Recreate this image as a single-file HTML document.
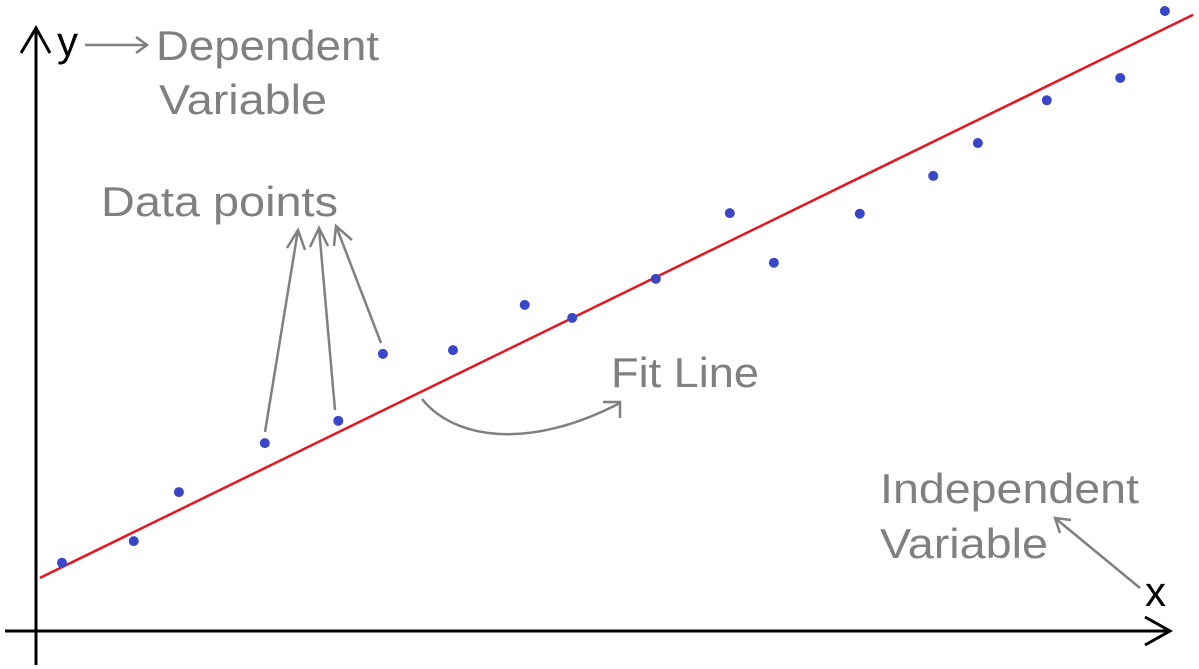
<!DOCTYPE html>
<html><head><meta charset="utf-8"><style>
html,body{margin:0;padding:0;background:#fff;width:1199px;height:669px;overflow:hidden}
svg{display:block}
text{font-family:"Liberation Sans",sans-serif}
.lbl{fill:#808080;font-size:42px}
.ann{stroke:#808080;stroke-width:2.5;fill:none}
</style></head><body>
<svg id="chart" width="1199" height="669">
<g id="axes">
<line x1="36" y1="665" x2="36" y2="30" stroke="#000" stroke-width="3"/>
<polyline points="21,53 36,28 50,53" fill="none" stroke="#000" stroke-width="3"/>
<line x1="5" y1="631" x2="1170" y2="631" stroke="#000" stroke-width="3"/>
<polyline points="1145,617 1170,631 1145,645" fill="none" stroke="#000" stroke-width="3"/>
<text x="57" y="56" font-size="42" fill="#000">y</text>
<text x="1145" y="606" font-size="42" fill="#000">x</text>
</g>
<g>
<line class="ann" x1="85" y1="45" x2="147" y2="45"/>
<polyline class="ann" points="136,37 147,45 136,53"/>
<text class="lbl" x="156" y="60" textLength="223" lengthAdjust="spacingAndGlyphs">Dependent</text>
<text class="lbl" x="159" y="114" textLength="168" lengthAdjust="spacingAndGlyphs">Variable</text>
<text class="lbl" x="101" y="216" textLength="237" lengthAdjust="spacingAndGlyphs">Data points</text>
<line class="ann" x1="265" y1="432" x2="298" y2="230"/>
<polyline class="ann" points="287,248 298,230 305,250"/>
<line class="ann" x1="335" y1="410" x2="319" y2="228"/>
<polyline class="ann" points="310,247 319,228 328,246"/>
<line class="ann" x1="381" y1="343" x2="336" y2="226"/>
<polyline class="ann" points="334,246 336,226 352,240"/>
<text class="lbl" x="611" y="387" textLength="148" lengthAdjust="spacingAndGlyphs">Fit Line</text>
<path class="ann" d="M422,399 C455,440 530,450 620,403"/>
<polyline class="ann" points="603,402 620,402 620,418"/>
<text class="lbl" x="880" y="503" textLength="259" lengthAdjust="spacingAndGlyphs">Independent</text>
<text class="lbl" x="880" y="558" textLength="168" lengthAdjust="spacingAndGlyphs">Variable</text>
<line class="ann" x1="1140" y1="588" x2="1055" y2="518"/>
<polyline class="ann" points="1060,533 1055,518 1071,520"/>
</g>
<g id="marks"></g>
</svg>
<script>
const xValues=[0.46,1.73,2.53,4.05,5.35,6.14,7.38,8.65,9.49,10.97,12.28,13.06,14.58,15.88,16.67,17.89,19.19,19.98];
const yValues=[1.10,1.45,2.24,3.03,3.39,4.47,4.53,5.26,5.05,5.68,6.74,5.94,6.73,7.34,7.87,8.56,8.92,10.0];
const fitIntercept=0.825;
const fitSlope=0.445;
const fitRange=[0.07,20.48];
const xs=v=>36+v*56.5;
const ys=v=>631-v*62;
const NS="http://www.w3.org/2000/svg";
const g=document.getElementById('marks');
const ln=document.createElementNS(NS,'line');
ln.setAttribute('x1',xs(fitRange[0]));ln.setAttribute('y1',ys(fitIntercept+fitSlope*fitRange[0]));
ln.setAttribute('x2',xs(fitRange[1]));ln.setAttribute('y2',ys(fitIntercept+fitSlope*fitRange[1]));
ln.setAttribute('stroke','#e8141e');ln.setAttribute('stroke-width','2.5');


g.appendChild(ln);
xValues.forEach((x,i)=>{
const c=document.createElementNS(NS,'circle');
c.setAttribute('cx',xs(x));c.setAttribute('cy',ys(yValues[i]));c.setAttribute('r','5');c.setAttribute('fill','#3a46c8');


g.appendChild(c);
});
</script>
</body></html>
